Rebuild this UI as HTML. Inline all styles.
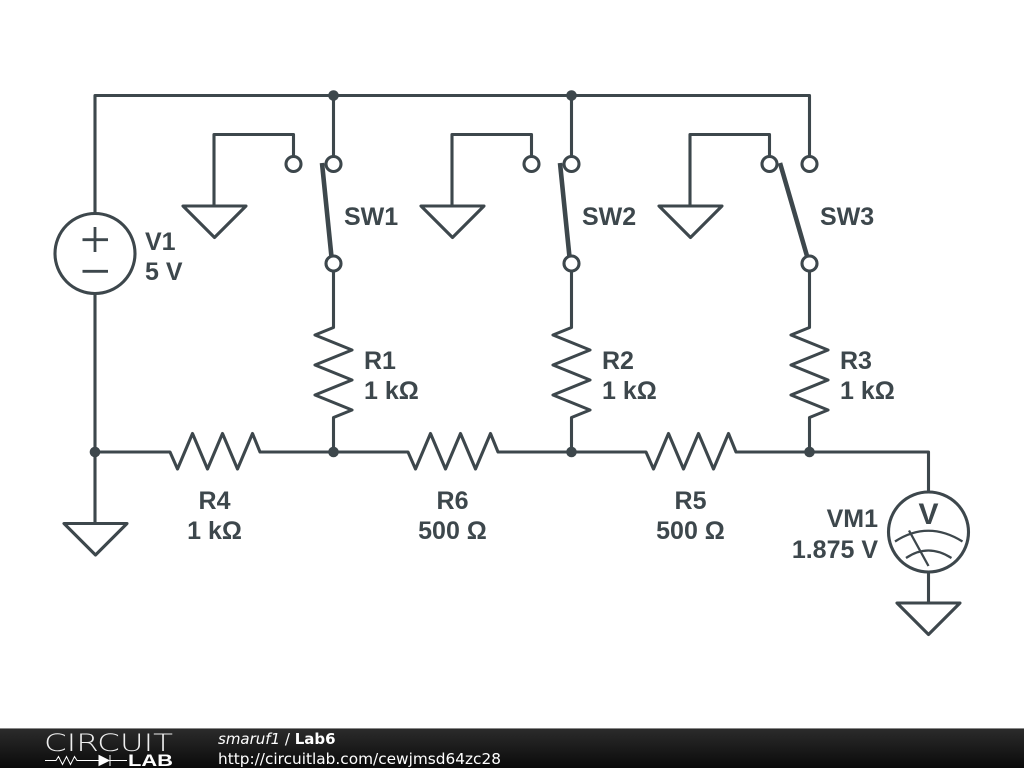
<!DOCTYPE html>
<html><head><meta charset="utf-8"><style>
html,body{margin:0;padding:0;background:#fff;width:1024px;height:768px;overflow:hidden}
svg{display:block}
.l{font-family:"Liberation Sans",sans-serif;font-weight:bold;font-size:25px;fill:#3d474c}
.f{font-family:"DejaVu Sans",sans-serif;font-size:15px;fill:#fff}
</style></head><body>
<svg width="1024" height="768" viewBox="0 0 1024 768" xmlns="http://www.w3.org/2000/svg">
<defs>
<linearGradient id="g" x1="0" y1="0" x2="0" y2="1"><stop offset="0" stop-color="#2b2b2b"/><stop offset="1" stop-color="#0a0a0a"/></linearGradient>
</defs>
<g fill="none" stroke="#3d474c" stroke-width="3.1" stroke-linejoin="round">
<!-- main wires -->
<path d="M95 213V95.500H809.500V156.500"/>
<path d="M333.500 95.500V156.500M571.500 95.500V156.500"/>
<path d="M95 294V523"/>
<path d="M95 452H170l7.500 17 15-35.500 15 35.500 15-35.500 15 35.500 15-35.500 7.500 18.500H408l7.500 17 15-35.500 15 35.500 15-35.500 15 35.500 15-35.500 7.500 18.500H646l7.500 17 15-35.500 15 35.500 15-35.500 15 35.500 15-35.500 7.500 18.500H928.500V492"/>
<path d="M928.500 572V603"/>
<!-- vertical resistors -->
<path d="M333.500 271V327.500L315 335 352 350 315 365 352 380 315 395 352 410 333.500 417.500V452"/>
<path d="M571.500 271V327.500L553 335 590 350 553 365 590 380 553 395 590 410 571.500 417.500V452"/>
<path d="M809.500 271V327.500L791 335 828 350 791 365 828 380 791 395 828 410 809.500 417.500V452"/>
<!-- ground stubs -->
<path d="M293.500 156.500V134.500H214V206"/>
<path d="M531.500 156.500V134.500H452V206"/>
<path d="M769.500 156.500V134.500H690V206"/>
<!-- grounds -->
<path d="M183 206H246L214.500 237.500Z"/>
<path d="M421 206H484L452.500 237.500Z"/>
<path d="M659 206H722L690.500 237.500Z"/>
<path d="M64 523.500H127L95.500 555Z"/>
<path d="M897 603H960L928.500 634.500Z"/>
<!-- contacts -->
<circle cx="293.500" cy="164" r="7.500"/><circle cx="333.500" cy="164" r="7.500"/><circle cx="333.500" cy="263.500" r="7.500"/>
<circle cx="531.500" cy="164" r="7.500"/><circle cx="571.500" cy="164" r="7.500"/><circle cx="571.500" cy="263.500" r="7.500"/>
<circle cx="769.500" cy="164" r="7.500"/><circle cx="809.500" cy="164" r="7.500"/><circle cx="809.500" cy="263.500" r="7.500"/>
<!-- source -->
<circle cx="95" cy="253.500" r="40"/>
<!-- meter -->
<circle cx="928.500" cy="532" r="40"/>
</g>
<path d="M95 227V252M82.500 239.700H108M82.500 271.300H108" stroke="#3d474c" stroke-width="2.800" fill="none"/>
<!-- switch arms -->
<g stroke="#3d474c" stroke-width="4.600" fill="none">
<path d="M322 163L331.500 257M560 163L569.500 257M780 163L807 256"/>
</g>
<!-- meter dial -->
<g stroke="#3d474c" stroke-width="2.300" fill="none">
<path d="M895 541.500Q928 520 962.500 541.500M906 558Q928 543 951.500 558M909 530.500L928.500 566"/>
</g>
<!-- junctions -->
<g fill="#3d474c">
<circle cx="333.500" cy="95.500" r="5.300"/><circle cx="571.500" cy="95.500" r="5.300"/>
<circle cx="95" cy="452" r="5.300"/><circle cx="333.500" cy="452" r="5.300"/><circle cx="571.500" cy="452" r="5.300"/><circle cx="809.500" cy="452" r="5.300"/>
</g>
<!-- labels -->
<text class="l" x="145" y="250">V1</text><text class="l" x="145" y="280">5 V</text>
<text class="l" x="344" y="225">SW1</text><text class="l" x="582" y="225">SW2</text><text class="l" x="820" y="225">SW3</text>
<text class="l" x="364" y="369">R1</text><text class="l" x="364" y="399">1 kΩ</text>
<text class="l" x="602" y="369">R2</text><text class="l" x="602" y="399">1 kΩ</text>
<text class="l" x="840" y="369">R3</text><text class="l" x="840" y="399">1 kΩ</text>
<g text-anchor="middle">
<text class="l" x="214.500" y="509">R4</text><text class="l" x="214.500" y="539">1 kΩ</text>
<text class="l" x="452.500" y="509">R6</text><text class="l" x="452.500" y="539">500 Ω</text>
<text class="l" x="690.500" y="509">R5</text><text class="l" x="690.500" y="539">500 Ω</text>
<text class="l" x="928.500" y="524" style="font-size:30px">V</text>
</g>
<g text-anchor="end">
<text class="l" x="878" y="527">VM1</text><text class="l" x="878" y="558">1.875 V</text>
</g>
<!-- footer -->
<rect x="0" y="729" width="1024" height="39" fill="url(#g)"/>
<rect x="0" y="728" width="1024" height="1" fill="#888"/>
<text x="44" y="751" font-family="'DejaVu Sans ExtraLight','DejaVu Sans Light','DejaVu Sans',sans-serif" font-weight="200" font-size="24" fill="#eee" textLength="129" lengthAdjust="spacingAndGlyphs">CIRCUIT</text>
<path d="M45 760.500H56l2.500-4 4 8 4-8 4 8 4-8 2.500 4H99M110 760.500H127" stroke="#fff" stroke-width="1" fill="none"/>
<path d="M99 755.500L109 760.500 99 765.500Z M110 755V766" fill="#fff" stroke="#fff" stroke-width="1"/>
<text x="128" y="766" font-family="Liberation Sans,sans-serif" font-weight="bold" font-size="17" fill="#fff" textLength="45" lengthAdjust="spacingAndGlyphs">LAB</text>
<text class="f" x="218" y="744"><tspan font-style="italic">smaruf1</tspan> / <tspan font-weight="bold">Lab6</tspan></text>
<text class="f" x="218" y="764" textLength="283" lengthAdjust="spacingAndGlyphs">http://circuitlab.com/cewjmsd64zc28</text>
</svg>
</body></html>
